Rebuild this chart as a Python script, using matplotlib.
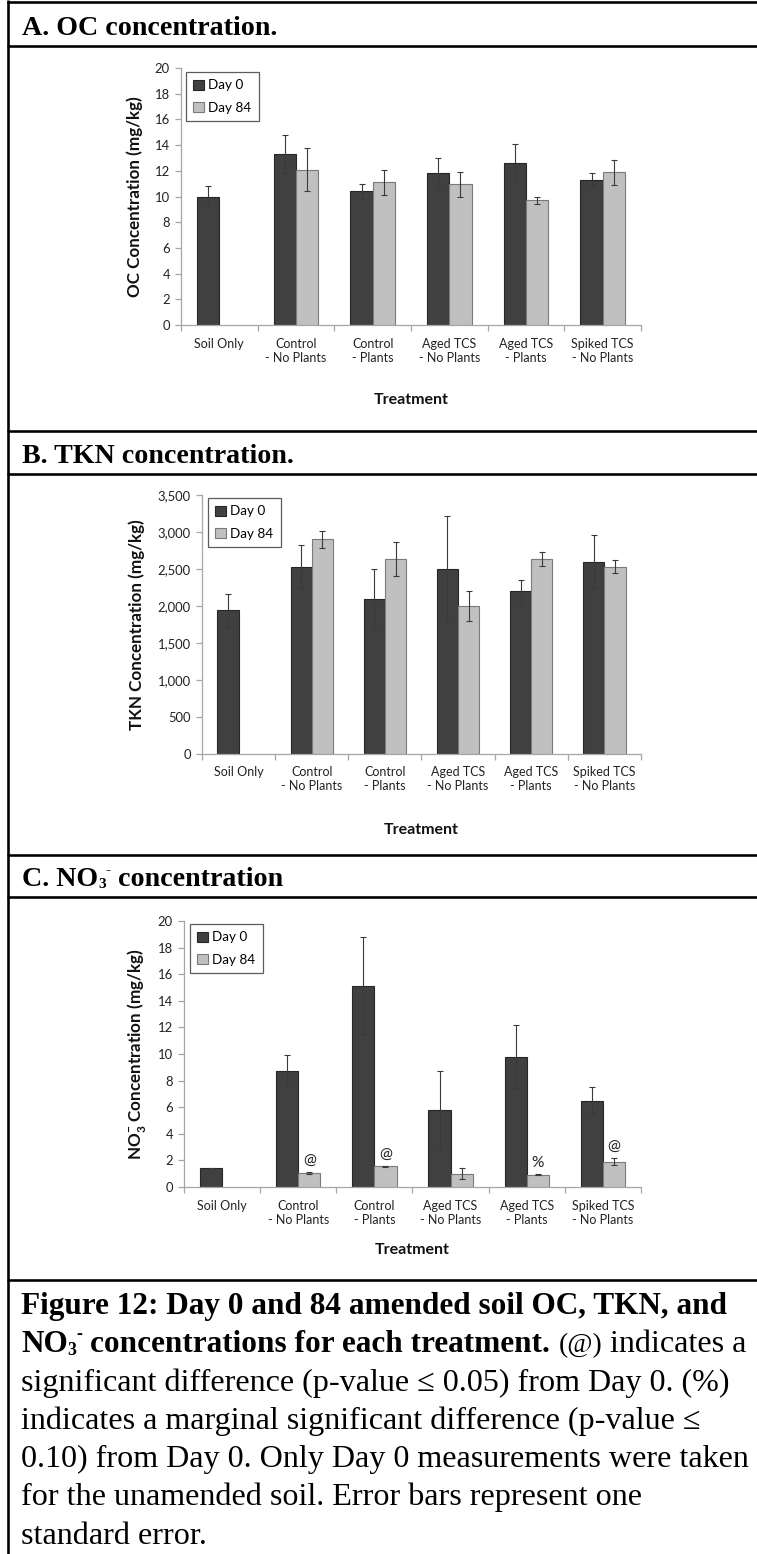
import numpy as np
import matplotlib
matplotlib.use("Agg")
import matplotlib.pyplot as plt
from matplotlib.lines import Line2D
from matplotlib.patches import Patch
from matplotlib.ticker import FuncFormatter, MultipleLocator, FixedLocator

W, H, DPI = 757, 1554, 100

# ---------------------------------------------------------------- data
treatments = ["Soil Only", "Control\n- No Plants", "Control\n- Plants",
              "Aged TCS\n- No Plants", "Aged TCS\n- Plants", "Spiked TCS\n- No Plants"]
series_names = ["Day 0", "Day 84"]

oc_day0 = [10.0, 13.3, 10.4, 11.8, 12.6, 11.3]
oc_day0_se = [0.8, 1.45, 0.6, 1.2, 1.5, 0.5]
oc_day84 = [None, 12.1, 11.1, 10.95, 9.7, 11.9]
oc_day84_se = [None, 1.65, 1.0, 0.98, 0.3, 0.97]

tkn_day0 = [1940, 2530, 2100, 2500, 2200, 2600]
tkn_day0_se = [228, 290, 405, 720, 158, 355]
tkn_day84 = [None, 2900, 2635, 2000, 2635, 2530]
tkn_day84_se = [None, 115, 235, 205, 90, 85]

no3_day0 = [1.4, 8.75, 15.15, 5.8, 9.8, 6.5]
no3_day0_se = [0.05, 1.2, 3.65, 2.95, 2.35, 1.0]
no3_day84 = [None, 1.05, 1.55, 1.0, 0.93, 1.9]
no3_day84_se = [None, 0.07, 0.05, 0.42, 0.05, 0.25]
no3_day84_marks = [None, "@", "@", None, "%", "@"]

# ---------------------------------------------------------------- style
SANS = ["Lato", "DejaVu Sans"]
SERIF = ["Liberation Serif", "DejaVu Serif"]
DARK, DARK_EDGE = "#404040", "#262626"
LIGHT, LIGHT_EDGE = "#c0c0c0", "#7a7a7a"
AXIS_GRAY = "#a6a6a6"

plt.rcParams["font.family"] = SANS
plt.rcParams["mathtext.fontset"] = "custom"
plt.rcParams["mathtext.rm"] = "Lato"
plt.rcParams["mathtext.bf"] = "Lato:bold"


def pt(px):
    return px * 72.0 / DPI


def fx(x):
    return x / W


def fy(y):
    return 1.0 - y / H


fig = plt.figure(figsize=(W / DPI, H / DPI), dpi=DPI)
fig.patch.set_facecolor("white")
renderer = fig.canvas.get_renderer()

# ---------------------------------------------------------------- table rules
RULE = pt(2.6)
for yy in [2, 46, 431, 474, 855, 897, 1280]:
    fig.add_artist(Line2D([fx(6.5), 1.0], [fy(yy), fy(yy)], color="black",
                          lw=RULE, solid_capstyle="butt"))
fig.add_artist(Line2D([fx(7.5), fx(7.5)], [0.0, 1.0], color="black",
                      lw=RULE, solid_capstyle="butt"))


def text_width(s, size_px, family, weight):
    t = fig.text(0, 0, s, fontsize=pt(size_px), family=family, fontweight=weight)
    w = t.get_window_extent(renderer).width
    t.remove()
    return w


def draw_runs(x, y, runs, size_px, family):
    """Draw a line of styled runs left to right starting at (x, baseline y) in px.
    Each run: (text, weight, scale, rise_em, space_before)."""
    space = text_width("x x", size_px, family, "normal") - text_width("xx", size_px, family, "normal")
    cx = x
    for text, weight, scale, rise, gap in runs:
        if gap:
            cx += space
        t = fig.text(fx(cx), fy(y - rise * size_px), text, fontsize=pt(size_px * scale),
                     family=family, fontweight=weight, va="baseline", ha="left",
                     color="black")
        cx += t.get_window_extent(renderer).width
    return cx


# ---------------------------------------------------------------- headers
HEAD_PX = 28
draw_runs(22, 35, [("A. OC concentration.", "bold", 1, 0, False)], HEAD_PX, SERIF)
draw_runs(22, 463, [("B. TKN concentration.", "bold", 1, 0, False)], HEAD_PX, SERIF)
draw_runs(22, 886, [("C. NO", "bold", 1, 0, False), ("3", "bold", 0.55, -0.08, False),
                    ("-", "bold", 0.55, 0.42, False),
                    ("concentration", "bold", 1, 0, True)], HEAD_PX, SERIF)


# ---------------------------------------------------------------- charts
def draw_panel(box, d0, d0_se, d84, d84_se, ymax, ystep, ylabel, label_x,
               treat_y, legend_xy, fmt=None, marks=None):
    x0, yt, x1, yb = box
    ax = fig.add_axes([fx(x0), fy(yb), (x1 - x0) / W, (yb - yt) / H])
    idx = np.arange(len(treatments))
    bw = 0.29

    ax.bar(idx - bw / 2, d0, width=bw, color=DARK, edgecolor=DARK_EDGE, linewidth=0.8, zorder=2)
    ax.errorbar(idx - bw / 2, d0, yerr=d0_se, fmt="none", ecolor="#3a3a3a",
                elinewidth=0.8, capsize=2.2, capthick=0.8, zorder=3)

    k = [i for i, v in enumerate(d84) if v is not None]
    v84 = [d84[i] for i in k]
    e84 = [d84_se[i] for i in k]
    pos84 = idx[k] + bw / 2
    ax.bar(pos84, v84, width=bw, color=LIGHT, edgecolor=LIGHT_EDGE, linewidth=0.8, zorder=2)
    ax.errorbar(pos84, v84, yerr=e84, fmt="none", ecolor="#3a3a3a",
                elinewidth=0.8, capsize=2.2, capthick=0.8, zorder=3)

    if marks is not None:
        for i in k:
            if marks[i]:
                ax.annotate(marks[i], (idx[i] + bw / 2, d84[i] + d84_se[i]),
                            xytext=(0, 3), textcoords="offset points",
                            ha="center", va="bottom", fontsize=pt(15.5), color="#222222")

    ax.set_xlim(-0.5, len(treatments) - 0.5)
    ax.set_ylim(0, ymax)
    ax.yaxis.set_major_locator(MultipleLocator(ystep))
    if fmt is not None:
        ax.yaxis.set_major_formatter(FuncFormatter(fmt))
    for s in ["top", "right"]:
        ax.spines[s].set_visible(False)
    ax.spines["left"].set_color(AXIS_GRAY)
    ax.spines["bottom"].set_color(AXIS_GRAY)
    ax.spines["left"].set_linewidth(0.9)
    ax.spines["bottom"].set_linewidth(0.9)

    ax.set_xticks(idx)
    ax.set_xticklabels(treatments, fontsize=pt(12.5), color="#222222", linespacing=1.2)
    ax.tick_params(axis="x", which="major", length=0, pad=9)
    ax.xaxis.set_minor_locator(FixedLocator(np.arange(-0.5, len(treatments), 1.0)))
    ax.tick_params(axis="x", which="minor", length=4, color=AXIS_GRAY, width=0.9)
    ax.tick_params(axis="y", length=4, color=AXIS_GRAY, width=0.9,
                   labelsize=pt(13), labelcolor="#222222", pad=4)

    fig.text(fx(label_x), fy((yt + yb) / 2), ylabel, rotation=90, ha="center", va="center",
             fontsize=pt(17), fontweight="bold", color="#111111")
    fig.text(fx((x0 + x1) / 2), fy(treat_y), "Treatment", ha="center", va="center",
             fontsize=pt(16), fontweight="bold", color="#111111")

    handles = [Patch(facecolor=DARK, edgecolor=DARK_EDGE, linewidth=0.8),
               Patch(facecolor=LIGHT, edgecolor=LIGHT_EDGE, linewidth=0.8)]
    lx, ly = legend_xy
    leg = ax.legend(handles, series_names, loc="upper left",
                    bbox_to_anchor=((lx - x0) / (x1 - x0), (yb - ly) / (yb - yt)),
                    borderaxespad=0, fancybox=False, frameon=True,
                    handlelength=0.75, handleheight=0.75, handletextpad=0.35,
                    labelspacing=0.75, borderpad=0.55, fontsize=pt(13.5))
    leg.get_frame().set_edgecolor("#333333")
    leg.get_frame().set_linewidth(0.9)
    return ax


draw_panel((181, 68, 641, 325), oc_day0, oc_day0_se, oc_day84, oc_day84_se,
           20, 2, "OC Concentration (mg/kg)", 135, 400, (186, 72))
draw_panel((202, 495, 641, 754), tkn_day0, tkn_day0_se, tkn_day84, tkn_day84_se,
           3500, 500, "TKN Concentration (mg/kg)", 137, 830, (208, 498),
           fmt=lambda v, p: f"{int(v):,}")
draw_panel((184, 921, 641, 1187), no3_day0, no3_day0_se, no3_day84, no3_day84_se,
           20, 2, r"NO$_\mathbf{3}^{\mathbf{-}}$ Concentration (mg/kg)", 137, 1250, (190, 924),
           marks=no3_day84_marks)

# ---------------------------------------------------------------- caption
CAP_X = 21
ref_line = "0.10) from Day 0. Only Day 0 measurements were taken"
CAP_PX = 30.0 * 730.0 / text_width(ref_line, 30.0, SERIF, "normal")
B = 0.97  # bold runs set slightly tighter

caption = [
    [("Figure 12: Day 0 and 84 amended soil OC, TKN, and", "bold", B, 0, False)],
    [("NO", "bold", B, 0, False), ("3", "bold", 0.55, -0.08, False), ("-", "bold", 0.55, 0.42, False),
     ("concentrations for each treatment.", "bold", B, 0, True),
     ("(@)", "normal", 0.85, 0, True),
     ("indicates a", "normal", 1, 0, True)],
    [("significant difference (p-value \u2264 0.05) from Day 0. (%)", "normal", 1, 0, False)],
    [("indicates a marginal significant difference (p-value \u2264", "normal", 1, 0, False)],
    [(ref_line, "normal", 1, 0, False)],
    [("for the unamended soil. Error bars represent one", "normal", 1, 0, False)],
    [("standard error.", "normal", 1, 0, False)],
]
base0, step = 1314, 38.3
for n, runs in enumerate(caption):
    draw_runs(CAP_X, base0 + n * step, runs, CAP_PX, SERIF)

fig.savefig("out.png", dpi=DPI, facecolor="white")
